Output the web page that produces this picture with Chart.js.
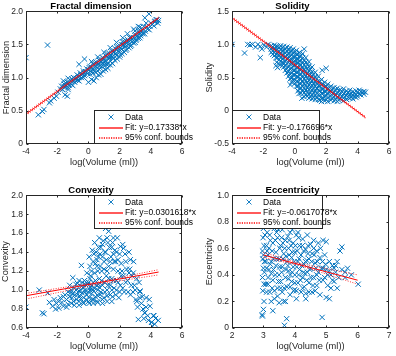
<!DOCTYPE html>
<html>
<head>
<meta charset="utf-8">
<script src="https://cdn.jsdelivr.net/npm/chart.js@4.4.1/dist/chart.umd.min.js"></script>
<style>
  body { margin: 0; background: #fff; }
  #fig { position: relative; width: 396px; height: 356px; overflow: hidden; background: #fff; }
  canvas { position: absolute; }
</style>
</head>
<body>
<div id="fig">
  <canvas id="p1" width="198" height="172" style="left:0;top:0"></canvas>
  <canvas id="p2" width="200" height="172" style="left:196px;top:0"></canvas>
  <canvas id="p3" width="198" height="172" style="left:0;top:184px"></canvas>
  <canvas id="p4" width="200" height="172" style="left:196px;top:184px"></canvas>
</div>
<script>
// ---- data ----
const titles = ['Fractal dimension', 'Solidity', 'Convexity', 'Eccentricity'];
const yLabels = ['Fractal dimension', 'Solidity', 'Convexity', 'Eccentricity'];
const xLabel = 'log(Volume (ml))';
const fitLabels = ['Fit: y=0.17338*x', 'Fit: y=-0.176696*x', 'Fit: y=0.0301618*x', 'Fit: y=-0.0617078*x'];
const dataLabel = 'Data';
const boundsLabel = '95% conf. bounds';

const fracPts = [
  [-4.0,1.30],[-2.62,1.49],[-3.21,0.44],[-2.95,0.49],[-2.85,0.52],[-2.5,0.62],[-2.42,0.65],[-2.2,0.69],
  [-2.05,0.72],[-1.95,0.78],[-1.5,0.74],[-1.35,0.72],[-1.6,0.95],[-1.3,0.99],[-0.25,1.28],[-0.6,1.2],
  [3.62,1.90],[3.88,1.96],[4.35,1.87],[3.3,1.76],[3.7,1.82],
  [-1.80,0.83],[-1.72,0.87],[-1.65,0.82],[-1.55,0.90],[-1.50,0.86],[-1.42,0.88],[-1.35,0.93],[-1.30,0.85],
  [-1.22,0.92],[-1.15,0.96],[-1.10,0.90],[-1.00,0.95],[-0.95,1.00],[-0.88,0.93],[-0.80,0.99],[-0.72,1.04],
  [-0.68,0.96],[-0.60,1.02],[-0.52,1.07],[-0.45,1.00],[-0.40,1.05],[-0.32,1.10],[-0.25,1.03],[-0.18,1.09],
  [-0.10,1.13],[-0.05,1.06],[0.02,1.12],[0.10,1.17],[0.15,1.09],[0.22,1.15],[0.30,1.20],[0.35,1.12],
  [0.42,1.18],[0.50,1.23],[0.55,1.15],[0.62,1.21],[0.70,1.26],[0.75,1.18],[0.82,1.24],[0.90,1.30],
  [0.95,1.22],[1.02,1.28],[1.10,1.33],[1.15,1.25],[1.22,1.31],[1.30,1.37],[1.35,1.29],[1.42,1.34],
  [1.50,1.40],[1.55,1.32],[1.62,1.38],[1.70,1.44],[1.75,1.36],[1.82,1.42],[1.90,1.47],[1.95,1.39],
  [2.02,1.45],[2.10,1.50],[2.15,1.43],[2.22,1.49],[2.30,1.54],[2.38,1.47],[2.45,1.52],[2.52,1.57],
  [2.60,1.50],[2.68,1.56],[2.75,1.61],[2.82,1.54],[2.90,1.60],[3.00,1.65],[3.08,1.58],[3.15,1.63],
  [3.25,1.68],[3.35,1.66],[3.45,1.72],[3.55,1.77],
  [2.5,1.66],[2.9,1.73],[3.2,1.77],[2.2,1.60],[1.8,1.53],[1.4,1.45],[1.0,1.38],[0.6,1.31],[0.2,1.24],
  [0.00,0.93],[0.20,0.97],[0.35,0.95],[0.50,1.00],[0.65,1.04],[0.80,1.05],[0.95,1.10],[1.10,1.12],
  [1.25,1.14],[1.40,1.19],[1.55,1.21],[1.70,1.26],[1.85,1.28],[2.00,1.31],[2.15,1.36],[2.30,1.38],
  [2.45,1.43],[2.60,1.45],[2.75,1.49],[2.90,1.52],[3.05,1.56],[3.20,1.59],[3.35,1.63],[3.50,1.66],
  [3.65,1.70],[3.80,1.73],[3.95,1.77],[4.10,1.80],[4.25,1.84],[4.40,1.87],[4.50,1.86],
  [0.3,1.07],[0.7,1.12],[1.0,1.18],[1.4,1.25],[1.8,1.33],[-0.3,1.0],[-0.6,0.95],[-1.0,0.88],[-1.3,0.82],
  [-1.6,0.86],[-1.45,0.92],[-1.25,0.89],[-1.05,0.98],[-0.85,0.97],[-0.65,1.0],[-0.48,1.04],[-0.28,1.07],
  [-0.12,1.08],[0.05,1.15],[0.25,1.12],[0.4,1.22],[0.58,1.19],[0.72,1.22],[0.88,1.27],[1.05,1.25],
  [1.2,1.36],[1.38,1.31],[1.52,1.36],[1.68,1.4],[1.85,1.45],[2.0,1.42],[2.18,1.54],[2.35,1.5],[2.5,1.55],
  [2.65,1.6],[2.8,1.58],[2.98,1.7],[3.1,1.62],[3.28,1.72],[3.4,1.69],[0.1,1.05],[0.45,1.08],[0.85,1.17],
  [1.25,1.2],[1.6,1.29],[2.05,1.34],[2.4,1.41],[2.7,1.47],[3.0,1.53],[3.3,1.6],[3.6,1.66],[3.9,1.72],
  [4.2,1.78],[4.3,1.85],[4.45,1.82],[4.0,1.82],[3.75,1.76],[0.6,1.1],[1.15,1.2]
];
const fracFit = [[-4, 0.45], [4.5, 1.90]];
const fracUp = [[-4, 0.47], [4.5, 1.915]];
const fracLo = [[-4, 0.43], [4.5, 1.885]];

const solPts = [
  [-4.0,1.0],[-3.2,0.87],[-3.0,1.0],[-2.85,0.99],[-2.7,1.0],[-2.5,0.96],[-2.35,1.0],[-2.2,0.97],[-2.1,0.93],
  [-2.2,0.80],[-1.95,0.99],[-1.8,0.96],[-1.7,1.0],[-1.55,0.97],[-1.15,0.73],[-1.1,0.65],[-1.2,0.68],[-1.0,0.70],
  [-1.5,0.98],[-1.5,0.93],[-1.5,0.88],
  [-1.3,0.99],[-1.3,0.94],[-1.3,0.88],[-1.3,0.83],
  [-1.1,0.97],[-1.1,0.92],[-1.1,0.86],[-1.1,0.80],
  [-0.9,0.98],[-0.9,0.93],[-0.9,0.87],[-0.9,0.81],[-0.9,0.75],
  [-0.7,0.97],[-0.7,0.91],[-0.7,0.85],[-0.7,0.79],[-0.7,0.72],[-0.7,0.66],
  [-0.5,0.96],[-0.5,0.90],[-0.5,0.84],[-0.5,0.78],[-0.5,0.71],[-0.5,0.64],[-0.5,0.57],
  [-0.3,0.95],[-0.3,0.89],[-0.3,0.82],[-0.3,0.76],[-0.3,0.70],[-0.3,0.63],[-0.3,0.55],[-0.3,0.48],
  [-0.1,0.93],[-0.1,0.87],[-0.1,0.81],[-0.1,0.74],[-0.1,0.68],[-0.1,0.61],[-0.1,0.54],[-0.1,0.46],
  [0.1,0.91],[0.1,0.85],[0.1,0.78],[0.1,0.72],[0.1,0.65],[0.1,0.58],[0.1,0.51],[0.1,0.44],[0.1,0.37],
  [0.3,0.88],[0.3,0.82],[0.3,0.75],[0.3,0.69],[0.3,0.62],[0.3,0.55],[0.3,0.48],[0.3,0.41],[0.3,0.34],
  [0.5,0.86],[0.5,0.79],[0.5,0.72],[0.5,0.65],[0.5,0.58],[0.5,0.51],[0.5,0.44],[0.5,0.37],[0.5,0.30],
  [0.7,0.80],[0.7,0.73],[0.7,0.66],[0.7,0.59],[0.7,0.52],[0.7,0.45],[0.7,0.38],[0.7,0.31],[0.7,0.24],
  [0.9,0.74],[0.9,0.67],[0.9,0.60],[0.9,0.53],[0.9,0.46],[0.9,0.39],[0.9,0.32],[0.9,0.25],[0.9,0.19],
  [1.1,0.66],[1.1,0.59],[1.1,0.52],[1.1,0.45],[1.1,0.38],[1.1,0.31],[1.1,0.24],[1.1,0.18],
  [1.3,0.58],[1.3,0.51],[1.3,0.44],[1.3,0.37],[1.3,0.30],[1.3,0.23],[1.3,0.17],
  [1.5,0.52],[1.5,0.45],[1.5,0.38],[1.5,0.31],[1.5,0.24],[1.5,0.17],
  [1.7,0.47],[1.7,0.40],[1.7,0.33],[1.7,0.26],[1.7,0.19],[1.7,0.14],
  [1.9,0.43],[1.9,0.36],[1.9,0.29],[1.9,0.22],[1.9,0.15],
  [2.1,0.40],[2.1,0.33],[2.1,0.26],[2.1,0.19],[2.1,0.14],
  [2.3,0.37],[2.3,0.30],[2.3,0.23],[2.3,0.16],
  [2.5,0.35],[2.5,0.28],[2.5,0.21],[2.5,0.15],
  [2.7,0.34],[2.7,0.27],[2.7,0.20],[2.7,0.14],
  [2.9,0.32],[2.9,0.25],[2.9,0.18],
  [3.1,0.33],[3.1,0.26],[3.1,0.19],[3.1,0.15],
  [3.3,0.30],[3.3,0.23],[3.3,0.17],
  [3.5,0.31],[3.5,0.25],[3.5,0.19],
  [3.7,0.29],[3.7,0.23],[3.7,0.18],
  [3.9,0.30],[3.9,0.24],[3.9,0.20],
  [4.1,0.31],[4.1,0.25],[4.32,0.28],[4.5,0.28],
  [-0.28,0.39],[0.27,0.26],[0.45,0.19],[2.0,0.64],[1.74,0.61],[0.6,0.93],
  [-1.4,0.96],[-1.4,0.90],[-1.4,0.85],
  [-1.2,0.97],[-1.2,0.91],[-1.2,0.85],[-1.2,0.80],
  [-1.0,0.95],[-1.0,0.89],[-1.0,0.83],[-1.0,0.77],
  [-0.8,0.95],[-0.8,0.90],[-0.8,0.84],[-0.8,0.78],[-0.8,0.72],[-0.8,0.68],
  [-0.6,0.93],[-0.6,0.87],[-0.6,0.81],[-0.6,0.75],[-0.6,0.68],[-0.6,0.61],
  [-0.4,0.92],[-0.4,0.86],[-0.4,0.79],[-0.4,0.73],[-0.4,0.66],[-0.4,0.59],[-0.4,0.52],
  [-0.2,0.90],[-0.2,0.84],[-0.2,0.77],[-0.2,0.71],[-0.2,0.64],[-0.2,0.57],[-0.2,0.50],[-0.2,0.43],
  [0.0,0.88],[0.0,0.81],[0.0,0.75],[0.0,0.68],[0.0,0.61],[0.0,0.54],[0.0,0.47],[0.0,0.41],
  [0.2,0.85],[0.2,0.78],[0.2,0.72],[0.2,0.65],[0.2,0.58],[0.2,0.51],[0.2,0.44],[0.2,0.37],[0.2,0.30],
  [0.4,0.83],[0.4,0.76],[0.4,0.69],[0.4,0.62],[0.4,0.55],[0.4,0.48],[0.4,0.41],[0.4,0.34],[0.4,0.27],
  [0.6,0.76],[0.6,0.69],[0.6,0.62],[0.6,0.55],[0.6,0.48],[0.6,0.41],[0.6,0.34],[0.6,0.27],[0.6,0.21],
  [0.8,0.70],[0.8,0.63],[0.8,0.56],[0.8,0.49],[0.8,0.42],[0.8,0.35],[0.8,0.28],[0.8,0.22],
  [1.0,0.62],[1.0,0.55],[1.0,0.48],[1.0,0.41],[1.0,0.34],[1.0,0.27],[1.0,0.21],
  [1.2,0.55],[1.2,0.48],[1.2,0.41],[1.2,0.34],[1.2,0.27],[1.2,0.20],
  [1.4,0.48],[1.4,0.41],[1.4,0.34],[1.4,0.27],[1.4,0.20],
  [1.6,0.44],[1.6,0.37],[1.6,0.30],[1.6,0.23],[1.6,0.16],
  [1.8,0.40],[1.8,0.33],[1.8,0.26],[1.8,0.19],
  [2.0,0.37],[2.0,0.30],[2.0,0.23],[2.0,0.17],
  [2.2,0.35],[2.2,0.28],[2.2,0.21],[2.4,0.33],[2.4,0.26],[2.4,0.19],
  [2.6,0.31],[2.6,0.24],[2.6,0.17],[2.8,0.30],[2.8,0.23],[2.8,0.16],
  [3.0,0.29],[3.0,0.22],[3.2,0.28],[3.2,0.21],[3.4,0.27],[3.4,0.20],[3.6,0.26],[3.6,0.21],
  [3.8,0.27],[3.8,0.22],[4.0,0.28],[4.0,0.22],[4.2,0.29],[4.2,0.24],[4.4,0.29],[4.4,0.25]
];
const solFit = [[-4, 1.40], [4.5, -0.10]];
const solUp = [[-4, 1.42], [4.5, -0.085]];
const solLo = [[-4, 1.38], [4.5, -0.115]];

const convPts = [
  [-4.0,0.82],[-3.15,1.0],[-2.95,0.76],[-2.85,0.75],[-2.6,0.97],[-2.5,0.87],[-2.3,0.83],[-2.2,0.9],[-2.05,0.86],
  [-1.9,0.81],[-1.8,0.92],[-1.7,0.87],[-1.6,0.83],[-1.5,0.95],[-1.4,0.9],[-1.3,0.85],[-1.2,1.05],[-1.15,0.97],
  [-1.05,0.92],[-1.0,1.13],[-0.9,1.02],[-0.85,0.95],[-0.75,0.9],[-0.7,1.07],[-0.6,0.99],[-0.55,0.94],
  [-0.45,1.26],[-0.45,1.04],[-0.4,0.97],[-0.3,0.92],[-0.25,1.1],[-0.2,1.0],[-0.1,0.95],[-0.05,1.06],
  [0.0,0.98],[0.05,0.92],[0.1,1.12],[0.15,1.03],[0.2,0.96],[0.3,1.08],[0.35,0.99],[0.4,1.18],[0.45,0.93],
  [0.5,1.05],[0.55,1.25],[0.6,1.0],[0.65,1.35],[0.7,1.12],[0.75,0.95],[0.8,1.45],[0.85,1.2],[0.9,1.05],
  [0.95,1.52],[1.0,1.3],[1.05,0.98],[1.1,1.65],[1.1,1.4],[1.15,1.15],[1.2,1.55],[1.25,1.05],[1.3,1.25],
  [1.35,1.45],[1.4,0.95],[1.45,1.35],[1.5,1.12],[1.55,1.5],[1.6,1.22],[1.65,1.02],[1.7,1.42],[1.75,1.3],
  [1.8,1.1],[1.85,1.55],[1.9,1.2],[1.95,0.92],[2.0,1.38],[2.05,1.05],[2.1,1.28],[2.2,1.48],[2.25,1.15],
  [2.3,0.98],[2.4,1.3],[2.5,1.1],[2.6,1.4],[2.65,1.22],[2.7,0.95],[2.8,1.15],[2.9,1.3],[2.95,1.05],
  [3.05,0.9],[3.1,1.12],[3.2,0.69],[3.3,0.98],[3.4,0.86],[3.5,0.8],[3.6,0.76],[3.7,0.92],[3.8,0.73],
  [3.95,0.83],[4.05,0.66],[4.1,0.62],[4.2,0.73],[4.3,0.7],[4.48,0.68],[3.3,0.92],
  [0.3,1.3],[0.5,1.4],[0.7,1.55],[0.9,1.35],[1.3,1.62],[1.0,1.22],[0.6,1.2],[0.2,1.2],[1.6,1.38],
  [0.4,1.5],[0.1,1.25],[-0.1,1.18],[1.14,1.78],
  [-0.8,1.0],[-0.5,1.0],[-0.2,0.98],[0.1,1.0],[0.4,1.02],[0.7,1.03],[-0.3,1.03],[0.25,0.9],[0.55,0.88],
  [-0.6,0.88],[0.9,0.9],[1.2,0.88],[-1.0,0.96],[1.5,1.0],[1.8,1.0],[-1.3,0.98],[2.26,1.44],[2.69,1.32],
  [2.88,1.18],[3.31,0.99],[3.1,0.88],[3.63,0.76],[4.16,0.73],[4.06,0.66],
  [-1.2,0.93],[-1.1,1.0],[-0.95,0.88],[-0.8,1.06],[-0.7,0.95],[-0.6,1.1],[-0.5,0.91],[-0.4,1.08],[-0.35,0.87],
  [-0.2,1.06],[-0.15,0.9],[0.0,1.08],[0.05,0.86],[0.2,1.05],[0.25,1.0],[0.35,0.9],[0.45,1.1],[0.6,0.94],
  [0.65,1.06],[0.8,0.98],[0.85,1.1],[1.0,0.92],[1.05,1.08],[1.2,1.0],[1.3,1.12],[1.4,1.05],[1.55,0.93],
  [1.6,1.1],[1.75,0.95],[1.9,1.08],[2.0,0.98],[2.1,1.15],[2.2,1.02],[2.4,1.08],[2.55,0.98],[2.6,1.18],
  [0.35,1.38],[0.55,1.32],[0.65,1.45],[0.75,1.25],[0.9,1.48],[1.05,1.4],[1.15,1.32],[1.25,1.5],[1.4,1.3],
  [1.5,1.45],[1.6,1.55],[1.65,1.3],[1.8,1.4],[1.9,1.32],[2.05,1.46],[2.15,1.2],[2.35,1.38],[2.45,1.22],
  [0.25,1.42],[0.45,1.28],[0.05,1.35],[0.15,1.15],[0.75,1.38],[1.2,1.2],
  [3.0,1.0],[3.15,0.82],[3.25,1.08],[3.45,0.93],[3.55,0.7],[3.7,0.82],[3.85,0.68],[3.9,0.9],[4.25,0.64],
  [2.85,0.98],[2.75,1.05],
  [-1.6,0.93],[-1.9,0.88],[-2.1,0.8],[-1.4,0.82],[-1.1,0.86],[-0.9,0.84],[-0.6,0.84],[-0.3,0.86],[0.0,0.88],
  [0.3,0.86],[0.6,0.87],[0.9,0.86],[1.2,0.94],[1.5,0.88]
];
const convFit = [[-4, 0.94], [4.5, 1.19]];
const convUp = [[-4, 0.965], [0.6, 1.085], [4.5, 1.215]];
const convLo = [[-4, 0.905], [0.6, 1.06], [4.5, 1.16]];

const eccPts = [
  [2.97,0.09],[2.96,0.10],[3.0,0.14],[2.98,0.28],[3.02,0.33],[2.97,0.38],[3.0,0.45],[3.03,0.5],[2.98,0.52],
  [3.0,0.55],[2.97,0.58],[3.02,0.62],[2.99,0.68],[3.0,0.75],
  [3.1,0.62],[3.1,0.45],[3.15,0.33],[3.15,0.55],[3.2,0.7],[3.2,0.27],[3.25,0.5],[3.25,0.41],[3.3,0.13],
  [3.3,0.64],[3.3,0.36],[3.35,0.75],[3.35,0.22],[3.4,0.57],[3.4,0.47],[3.45,0.3],[3.45,0.68],[3.5,0.52],
  [3.5,0.4],[3.5,0.19],[3.55,0.62],[3.55,0.35],[3.6,0.74],[3.6,0.46],[3.6,0.27],[3.65,0.56],[3.67,0.02],
  [3.7,0.66],[3.7,0.38],[3.7,0.2],[3.74,0.07],[3.75,0.5],[3.75,0.31],[3.8,0.6],[3.8,0.43],[3.85,0.72],
  [3.85,0.25],[3.9,0.53],[3.9,0.35],[3.95,0.64],[3.95,0.46],[4.0,0.29],[4.0,0.57],[4.0,0.4],[4.05,0.7],
  [4.05,0.22],[4.1,0.5],[4.1,0.34],[4.15,0.62],[4.15,0.44],[4.2,0.27],[4.2,0.55],[4.25,0.67],[4.25,0.38],
  [4.3,0.48],[4.3,0.31],[4.35,0.59],[4.35,0.22],[4.4,0.42],[4.4,0.7],[4.45,0.52],[4.45,0.34],[4.5,0.63],
  [4.5,0.45],[4.55,0.27],[4.55,0.56],[4.6,0.38],[4.6,0.66],[4.65,0.49],[4.7,0.32],[4.7,0.58],[4.75,0.42],
  [4.8,0.53],[4.8,0.25],[4.87,0.08],[4.85,0.45],[4.9,0.66],[4.9,0.36],[4.95,0.55],[5.0,0.65],[5.0,0.23],
  [5.0,0.44],[5.05,0.32],[5.1,0.22],[5.1,0.5],[5.15,0.4],[5.2,0.47],[5.25,0.35],[5.3,0.42],[5.35,0.3],
  [5.44,0.58],[5.5,0.61],[5.5,0.44],[5.6,0.38],[5.68,0.45],[5.8,0.4],[6.02,0.33],
  [3.05,0.7],[3.12,0.72],[3.18,0.6],[3.28,0.58],[3.38,0.66],[3.42,0.52],[3.48,0.74],[3.58,0.68],[3.62,0.52],
  [3.68,0.6],[3.78,0.69],[3.82,0.55],[3.88,0.62],[3.92,0.74],[3.98,0.5],[4.08,0.58],[4.12,0.68],[4.22,0.47],
  [4.28,0.58],[4.38,0.51],[3.22,0.48],[3.32,0.44],[3.52,0.46],[3.72,0.44],[3.92,0.42],[4.12,0.4],[4.32,0.41],
  [4.52,0.38],[3.15,0.38],[3.35,0.28],[3.55,0.3],[3.8,0.37],[4.0,0.34],[4.25,0.3],[4.45,0.27],[4.65,0.28],
  [4.7,0.4],[4.9,0.45],[5.1,0.43],[5.3,0.47],[5.4,0.38],[4.95,0.38],[4.6,0.6],[4.42,0.62],[4.75,0.64],[5.2,0.36],
  [3.08,0.5],[3.08,0.33],[3.12,0.58],[3.18,0.44],[3.22,0.66],[3.28,0.3],[3.32,0.52],[3.38,0.4],[3.42,0.72],
  [3.48,0.35],[3.52,0.6],[3.58,0.42],[3.62,0.64],[3.66,0.3],[3.72,0.54],[3.78,0.47],[3.82,0.66],[3.86,0.4],
  [3.92,0.57],[3.96,0.28],[4.02,0.62],[4.06,0.46],[4.1,0.72],[4.14,0.52],[4.18,0.36],[4.24,0.62],[4.28,0.42],
  [4.34,0.5],[4.38,0.36],[4.42,0.56],[4.48,0.44],[4.54,0.5],[4.58,0.32],[4.62,0.55],[4.68,0.45],[4.72,0.5],
  [4.78,0.36],[4.82,0.6],[4.88,0.5],[4.98,0.48],[5.05,0.4],[5.15,0.3],[5.25,0.45],[5.35,0.5],[5.6,0.42],
  [3.02,0.2],[3.03,0.42],[3.1,0.27],[3.25,0.2],[3.45,0.24],[3.65,0.2],[3.85,0.31],[4.05,0.28],[4.35,0.26]
];
const eccFit = [[3, 0.55], [6, 0.36]];
const eccUp = [[3, 0.57], [4.1, 0.49], [6, 0.40]];
const eccLo = [[3, 0.53], [4.1, 0.475], [6, 0.33]];

// ---- drawing ----
const NARROW = "'Liberation Sans Narrow', 'Arial Narrow', 'Liberation Sans', Arial, sans-serif";
const SANS = "'Liberation Sans', Arial, sans-serif";
const BLUE = '#0072BD';
const RED = '#FF0000';
const AXIS = '#262626';

const xy = pts => pts.map(p => ({ x: p[0], y: p[1] }));

// MATLAB style box with inward ticks
const frame = {
  id: 'frame',
  afterDatasetsDraw(chart) {
    const { ctx, chartArea: a, scales: { x, y } } = chart;
    const l = Math.round(a.left) + 0.5, r = Math.round(a.right) - 0.5;
    const t = Math.round(a.top) + 0.5, b = Math.round(a.bottom) - 0.5;
    ctx.save();
    ctx.strokeStyle = AXIS;
    ctx.lineWidth = 1;
    ctx.beginPath();
    x.ticks.forEach(tk => {
      const px = Math.round(x.getPixelForValue(tk.value)) + 0.5;
      ctx.moveTo(px, b); ctx.lineTo(px, b - 2);
      ctx.moveTo(px, t); ctx.lineTo(px, t + 2);
    });
    y.ticks.forEach(tk => {
      const py = Math.round(y.getPixelForValue(tk.value)) + 0.5;
      ctx.moveTo(l, py); ctx.lineTo(l + 2, py);
      ctx.moveTo(r, py); ctx.lineTo(r - 2, py);
    });
    ctx.stroke();
    ctx.strokeRect(l, t, r - l, b - t);
    ctx.restore();
  }
};

// legend box drawn inside the axes like MATLAB
const boxLegend = {
  id: 'boxLegend',
  afterDraw(chart, args, o) {
    const { ctx, chartArea: a } = chart;
    const w = o.width, h = 34;
    const x0 = Math.round(o.corner[1] === 'r' ? a.right - w : a.left);
    const y0 = Math.round(o.corner[0] === 'b' ? a.bottom - h : a.top);
    const ds = chart.data.datasets;
    ctx.save();
    ctx.fillStyle = '#fff';
    ctx.fillRect(x0, y0, w, h);
    ctx.strokeStyle = AXIS;
    ctx.lineWidth = 1;
    ctx.setLineDash([]);
    ctx.strokeRect(x0 + 0.5, y0 + 0.5, w - 1, h - 1);
    for (let i = 0; i < 3; i++) {
      const cy = y0 + 7 + i * 10;
      ctx.save();
      if (i === 0) {
        ctx.strokeStyle = BLUE;
        ctx.lineWidth = 0.9;
        ctx.beginPath();
        ctx.moveTo(x0 + 14.5, cy - 2.5); ctx.lineTo(x0 + 19.5, cy + 2.5);
        ctx.moveTo(x0 + 19.5, cy - 2.5); ctx.lineTo(x0 + 14.5, cy + 2.5);
        ctx.stroke();
      } else {
        // two-row antialiased stroke keeps the red hue visible
        ctx.strokeStyle = ds[i].borderColor;
        ctx.lineWidth = 1.3;
        ctx.setLineDash(i === 2 ? [1.2, 1.2] : []);
        ctx.beginPath();
        ctx.moveTo(x0 + 5, cy + 1);
        ctx.lineTo(x0 + 29, cy + 1);
        ctx.stroke();
      }
      ctx.restore();
      ctx.font = '8.5px ' + NARROW;
      ctx.textBaseline = 'middle';
      ctx.fillStyle = '#000';
      ctx.fillText(ds[i].label, x0 + 31, cy + 0.5);
    }
    ctx.restore();
  }
};

function panel(id, o) {
  new Chart(document.getElementById(id), {
    type: 'scatter',
    data: {
      datasets: [
        { label: dataLabel, data: xy(o.pts), order: 2, pointStyle: 'crossRot', pointRadius: 3.7, borderColor: BLUE, borderWidth: 1, backgroundColor: BLUE },
        { type: 'line', label: o.fitLabel, data: xy(o.fit), order: 1, borderColor: RED, borderWidth: 1, pointRadius: 0, fill: false },
        { type: 'line', label: boundsLabel, data: xy(o.up), order: 1, borderColor: RED, borderWidth: 0.8, borderDash: [1, 1.5], pointRadius: 0, fill: false },
        { type: 'line', label: boundsLabel, data: xy(o.lo), order: 1, borderColor: RED, borderWidth: 0.8, borderDash: [1, 1.5], pointRadius: 0, fill: false }
      ]
    },
    options: {
      responsive: false,
      animation: false,
      events: [],
      layout: { padding: { top: 1.7, right: o.rightPad, left: 0, bottom: 0 } },
      plugins: {
        legend: { display: false },
        tooltip: { enabled: false },
        title: { display: true, text: o.title, color: '#000', padding: 0,
          font: { family: NARROW, size: 9.5, weight: 'bold', lineHeight: 1 } },
        boxLegend: { corner: o.corner, width: o.legendW }
      },
      scales: {
        x: {
          type: 'linear', min: o.xr[0], max: o.xr[1],
          grid: { display: false, drawTicks: false }, border: { display: false },
          ticks: { stepSize: o.xr[2], color: AXIS, padding: 3, maxRotation: 0, font: { family: NARROW, size: 8.5 } },
          title: { display: true, text: xLabel, color: AXIS, padding: { top: 0, bottom: 3.6 },
            font: { family: NARROW, size: 9.3, lineHeight: 1.2 } },
          afterFit: s => { s.height = 28; }
        },
        y: {
          type: 'linear', min: o.yr[0], max: o.yr[1],
          grid: { display: false, drawTicks: false }, border: { display: false },
          ticks: { stepSize: o.yr[2], color: AXIS, padding: 3, font: { family: NARROW, size: 8.5 } },
          title: { display: true, text: o.yLabel, color: AXIS, padding: { top: o.yTitlePad, bottom: 0 },
            font: { family: SANS, size: 9.3, lineHeight: 1.2 } },
          afterFit: s => { s.width = o.yw; }
        }
      }
    },
    plugins: [frame, boxLegend]
  });
}

panel('p1', { title: titles[0], yLabel: yLabels[0], fitLabel: fitLabels[0], pts: fracPts, fit: fracFit, up: fracUp, lo: fracLo,
  xr: [-4, 6, 2], yr: [0, 2, 0.5], yw: 26, rightPad: 16, yTitlePad: 0.5, corner: 'br', legendW: 88 });
panel('p2', { title: titles[1], yLabel: yLabels[1], fitLabel: fitLabels[1], pts: solPts, fit: solFit, up: solUp, lo: solLo,
  xr: [-4, 6, 2], yr: [-0.5, 1.5, 0.5], yw: 36, rightPad: 7, yTitlePad: 7.5, corner: 'bl', legendW: 88 });
panel('p3', { title: titles[2], yLabel: yLabels[2], fitLabel: fitLabels[2], pts: convPts, fit: convFit, up: convUp, lo: convLo,
  xr: [-4, 6, 2], yr: [0.6, 2, 0.2], yw: 26, rightPad: 16, yTitlePad: 0, corner: 'tr', legendW: 88 });
panel('p4', { title: titles[3], yLabel: yLabels[3], fitLabel: fitLabels[3], pts: eccPts, fit: eccFit, up: eccUp, lo: eccLo,
  xr: [2, 7, 1], yr: [0, 1, 0.2], yw: 36, rightPad: 7, yTitlePad: 7.5, corner: 'tl', legendW: 91 });
</script>
</body>
</html>
